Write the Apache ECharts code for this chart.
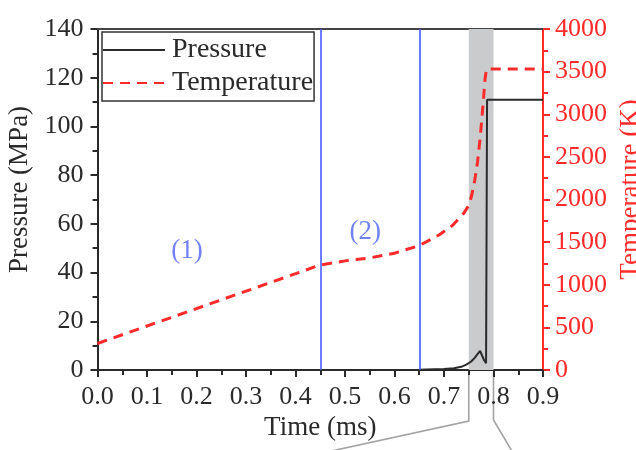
<!DOCTYPE html>
<html>
<head>
<meta charset="utf-8">
<script src="https://cdn.jsdelivr.net/npm/echarts@6/dist/echarts.min.js"></script>
<style>html,body{margin:0;padding:0;background:#fff;}#c{width:636px;height:450px;}</style>
</head>
<body>
<div id="c"></div>
<script>
// ---- data ----
const pressureTime = [0, 0.3, 0.6, 0.65, 0.68, 0.70, 0.72, 0.735, 0.745, 0.755, 0.762, 0.768, 0.773, 0.777, 0.781, 0.785, 0.787, 0.787, 0.9];
const pressure     = [0, 0, 0, 0.15, 0.3, 0.4, 0.7, 1.3, 2.2, 3.5, 5.0, 6.6, 7.8, 7.2, 4.0, 2.8, 2.8, 111, 111];
const tempTime     = [0, 0.45, 0.5, 0.55, 0.6, 0.65, 0.69, 0.718, 0.74, 0.75, 0.756, 0.762, 0.768, 0.773, 0.778, 0.783, 0.786, 0.9];
const temperature  = [311, 1232, 1280, 1315, 1370, 1460, 1584, 1700, 1840, 1930, 2050, 2220, 2450, 2720, 3050, 3420, 3530, 3530];
const stageLines   = [0.45, 0.65];
const highlightBand = [0.75, 0.80];
const stageLabels  = [{ text: '(1)', t: 0.181, p: 49 }, { text: '(2)', t: 0.541, p: 56.7 }];
const seriesNames  = ['Pressure', 'Temperature'];

const FONT = "'Liberation Serif', 'Times New Roman', serif";
const RED = '#ff2a2a';
const DARK = '#2a2a2a';

const chart = echarts.init(document.getElementById('c'));
const option = {
  animation: false,
  textStyle: { fontFamily: FONT },
  grid: { left: 97.5, right: 93, top: 29, bottom: 80, outerBoundsMode: 'none', containLabel: false },
  legend: {
    data: seriesNames,
    orient: 'vertical',
    left: 102, top: 32,
    itemWidth: 62, itemHeight: 14, itemGap: 5,
    padding: [4, 1, 4, 0],
    borderColor: '#333', borderWidth: 1.5,
    itemStyle: { opacity: 0 },
    textStyle: { fontFamily: FONT, fontSize: 28, color: DARK, padding: [0, 0, 0, 2] }
  },
  xAxis: [{
    type: 'value', min: 0, max: 0.9, interval: 0.1,
    name: 'Time (ms)', nameLocation: 'middle', nameGap: 37,
    nameTextStyle: { fontFamily: FONT, fontSize: 27, color: DARK },
    axisLine: { onZero: false, lineStyle: { color: DARK, width: 2 } },
    axisTick: { inside: false, length: 7, lineStyle: { width: 2, color: DARK } },
    minorTick: { show: true, splitNumber: 2, length: 5, lineStyle: { width: 2, color: DARK } },
    splitLine: { show: false },
    axisLabel: { fontFamily: FONT, fontSize: 26, color: DARK, margin: 14, formatter: v => v.toFixed(1) }
  }, {
    type: 'value', min: 0, max: 0.9, position: 'top',
    axisLine: { show: true, onZero: false, lineStyle: { color: '#444', width: 2 } },
    axisTick: { show: false }, axisLabel: { show: false }, splitLine: { show: false }
  }],
  yAxis: [{
    type: 'value', min: 0, max: 140, interval: 20, position: 'left',
    name: 'Pressure (MPa)', nameLocation: 'middle', nameGap: 56, nameRotate: 90,
    nameTextStyle: { fontFamily: FONT, fontSize: 27, color: DARK, padding: [0, 0, 0, 20] },
    axisLine: { show: true, onZero: false, lineStyle: { color: DARK, width: 2 } },
    axisTick: { show: true, inside: false, length: 7, lineStyle: { width: 2, color: DARK } },
    minorTick: { show: true, splitNumber: 2, length: 5, lineStyle: { width: 2, color: DARK } },
    splitLine: { show: false },
    axisLabel: { fontFamily: FONT, fontSize: 26, color: DARK, margin: 14 }
  }, {
    type: 'value', min: 0, max: 4000, interval: 500, position: 'right',
    name: 'Temperature (K)', nameLocation: 'middle', nameGap: 72, nameRotate: 90,
    nameTextStyle: { fontFamily: FONT, fontSize: 27, color: RED, padding: [0, 0, 0, 20] },
    axisLine: { show: true, onZero: false, lineStyle: { color: RED, width: 2 } },
    axisTick: { show: true, inside: false, length: 7, lineStyle: { width: 2, color: RED } },
    minorTick: { show: true, splitNumber: 2, length: 5, lineStyle: { width: 2, color: RED } },
    splitLine: { show: false },
    axisLabel: { fontFamily: FONT, fontSize: 26, color: RED, margin: 12, formatter: v => String(v) }
  }],
  series: [{
    name: seriesNames[0], type: 'line', symbol: 'none', z: 3,
    data: pressureTime.map((t, i) => [t, pressure[i]]),
    lineStyle: { color: DARK, width: 2 }, itemStyle: { color: DARK },
    markArea: {
      silent: true,
      itemStyle: { color: '#c9cbcc', opacity: 1 },
      data: [[{ xAxis: highlightBand[0] }, { xAxis: highlightBand[1] }]]
    },
    markLine: {
      silent: true, symbol: 'none', label: { show: false },
      lineStyle: { color: '#4a5cff', type: 'solid', width: 1.6 },
      data: stageLines.map(v => ({ xAxis: v }))
    }
  }, {
    name: seriesNames[1], type: 'line', symbol: 'none', yAxisIndex: 1, z: 4,
    data: tempTime.map((t, i) => [t, temperature[i]]),
    lineStyle: { color: RED, width: 3, type: [10, 7] }, itemStyle: { color: RED }
  }, {
    name: 'stage', type: 'scatter', symbolSize: 0, silent: true,
    data: stageLabels.map(s => ({ value: [s.t, s.p], name: s.text })),
    label: { show: true, position: 'inside', formatter: p => p.name,
             fontFamily: FONT, fontSize: 27, color: '#4f62f2' }
  }]
};
chart.setOption(option);

// connector lines below the highlight band (zoom indicator)
const x0 = chart.convertToPixel({ xAxisIndex: 0 }, highlightBand[0]);
const x1 = chart.convertToPixel({ xAxisIndex: 0 }, highlightBand[1]);
const yb = chart.convertToPixel({ yAxisIndex: 0 }, 0);
chart.setOption({
  graphic: [
    { type: 'polyline', silent: true, shape: { points: [[x0, yb + 2], [x0, yb + 51], [x0 - 142, 452]] },
      style: { stroke: '#a3a3a3', lineWidth: 1.6, fill: null } },
    { type: 'polyline', silent: true, shape: { points: [[x1, yb + 2], [x1, yb + 50], [x1 + 19, 452]] },
      style: { stroke: '#a3a3a3', lineWidth: 1.6, fill: null } }
  ]
});
</script>
</body>
</html>
